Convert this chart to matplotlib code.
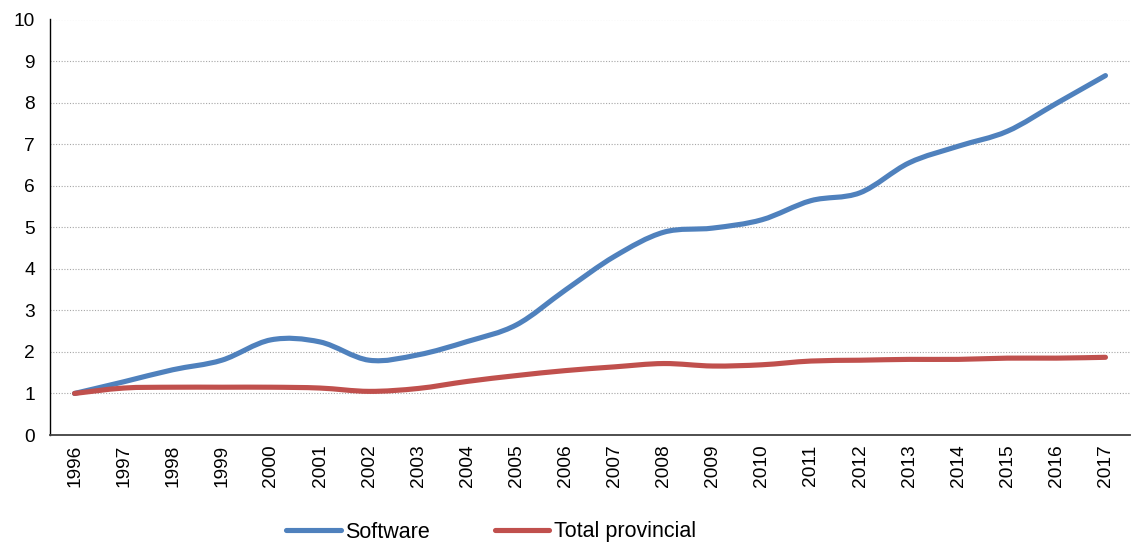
import matplotlib.pyplot as plt
import numpy as np
from matplotlib.path import Path
from matplotlib.patches import PathPatch
from matplotlib.lines import Line2D

plt.rcParams["font.family"] = "Liberation Sans"
plt.rcParams["font.size"] = 13.8

years = [str(y) for y in range(1996, 2018)]
software = [1.00, 1.28, 1.57, 1.80, 2.29, 2.24, 1.80, 1.93, 2.25, 2.65, 3.49,
            4.30, 4.88, 4.98, 5.18, 5.64, 5.83, 6.55, 6.95, 7.31, 7.98, 8.65]
total_prov = [1.00, 1.13, 1.15, 1.15, 1.15, 1.13, 1.05, 1.12, 1.29, 1.43, 1.55,
              1.64, 1.72, 1.66, 1.69, 1.78, 1.80, 1.82, 1.82, 1.85, 1.85, 1.87]

blue = "#4F81BD"
red = "#C0504D"


# Smoothed line through the points (Catmull-Rom converted to cubic Bezier)
def smooth_path(xs, ys):
    pts = np.column_stack([xs, ys]).astype(float)
    padded = np.vstack([pts[0], pts, pts[-1]])
    verts = [tuple(pts[0])]
    codes = [Path.MOVETO]
    for i in range(1, len(padded) - 2):
        p0, p1, p2, p3 = padded[i - 1], padded[i], padded[i + 1], padded[i + 2]
        c1 = p1 + (p2 - p0) / 6.0
        c2 = p2 - (p3 - p1) / 6.0
        verts += [tuple(c1), tuple(c2), tuple(p2)]
        codes += [Path.CURVE4] * 3
    return Path(verts, codes)


fig = plt.figure(figsize=(11.31, 5.44), dpi=100)
ax = fig.add_axes([50 / 1131, 1 - 435 / 544, 1080 / 1131, (435 - 19.5) / 544])

x = np.arange(len(years))
for vals, col in [(software, blue), (total_prov, red)]:
    ax.add_patch(PathPatch(smooth_path(x, vals), facecolor="none", edgecolor=col,
                           lw=3.7, capstyle="round", joinstyle="round", zorder=3))

ax.set_xlim(-0.5, len(years) - 0.5)
ax.set_ylim(0, 10)
ax.set_yticks(range(0, 11))
ax.set_xticks(x)
ax.set_xticklabels(years, rotation=90)
ax.tick_params(axis="both", length=0, colors="black")
ax.tick_params(axis="y", pad=11)
ax.tick_params(axis="x", pad=7)
ax.yaxis.grid(True, linestyle=(0, (1, 1.5)), color="#a6a6a6", lw=0.8)
ax.set_axisbelow(True)
for s in ["top", "right"]:
    ax.spines[s].set_visible(False)
ax.spines["left"].set_color("black")
ax.spines["bottom"].set_color("#404040")
ax.spines["left"].set_linewidth(1.0)
ax.spines["bottom"].set_linewidth(1.3)

handles = [Line2D([], [], color=blue, lw=3.7, solid_capstyle="round"),
           Line2D([], [], color=red, lw=3.7, solid_capstyle="round")]
fig.legend(handles, ["Software", "Total provincial"], loc="center",
           bbox_to_anchor=(491 / 1131, 1 - 532 / 544), ncol=2, frameon=False,
           fontsize=15.5, handlelength=2.55, handletextpad=0.2, columnspacing=3.0)

fig.savefig("out.png", dpi=100)
